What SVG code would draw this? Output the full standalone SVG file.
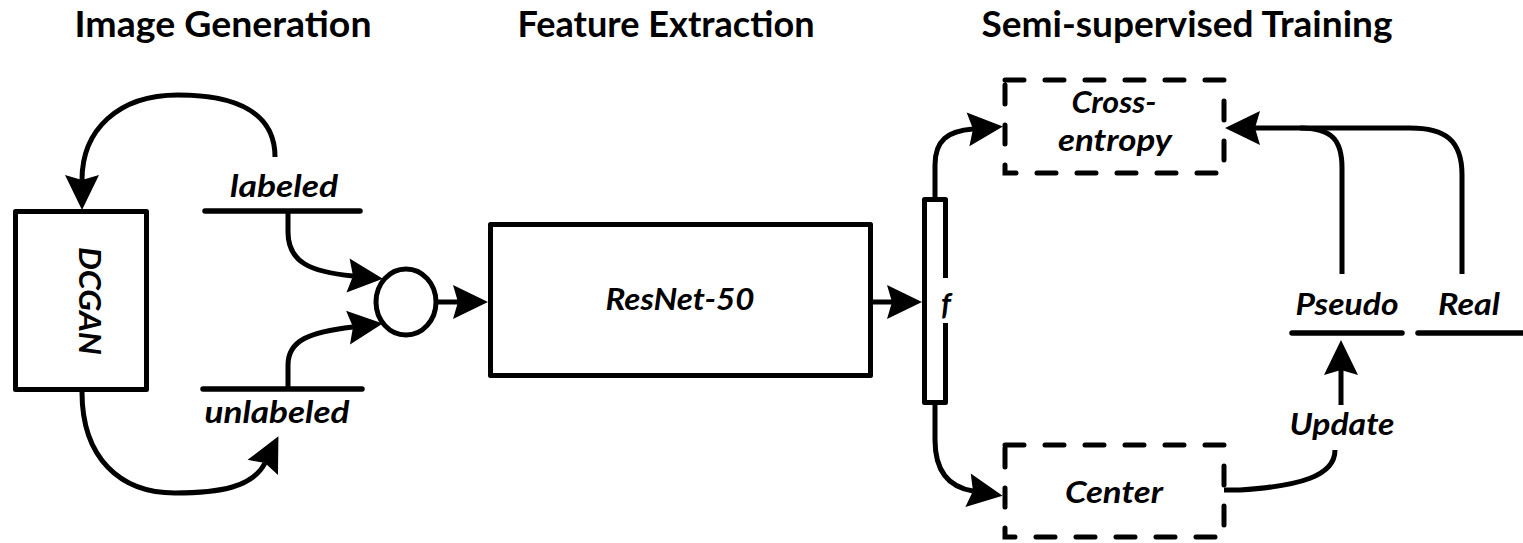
<svg xmlns="http://www.w3.org/2000/svg" width="1523" height="543" viewBox="0 0 1523 543">
  <style>
    .title { font-family: Lato, "Open Sans", "Liberation Sans", sans-serif; font-weight: bold; font-size: 36px; fill: #000; text-anchor: middle; }
    .lbl { font-family: Lato, "Open Sans", "Liberation Sans", sans-serif; font-weight: bold; font-style: italic; font-size: 30px; fill: #000; text-anchor: middle; }
    .box { fill: #fff; stroke: #000; stroke-width: 5; stroke-linejoin: round; }
    .dash { fill: #fff; stroke: #000; stroke-width: 5; stroke-dasharray: 19 21; stroke-linecap: round; }
    .bar { fill: none; stroke: #000; stroke-width: 5.5; stroke-linecap: round; }
    .conn { fill: none; stroke: #000; stroke-width: 5; }
    .arr { marker-end: url(#head); }
  </style>
  <defs>
    <marker id="head" markerUnits="userSpaceOnUse" markerWidth="80" markerHeight="80" refX="0" refY="0" viewBox="-40 -40 80 80" orient="auto" overflow="visible">
      <path d="M-5,-17 L30,0 L-5,17 L0,0 Z" fill="#000"/>
    </marker>
  </defs>

  <!-- section titles -->
  <text class="title" x="223" y="37" textLength="297" lengthAdjust="spacingAndGlyphs">Image Generation</text>
  <text class="title" x="666" y="37" textLength="297" lengthAdjust="spacingAndGlyphs">Feature Extraction</text>
  <text class="title" x="1187" y="37" textLength="411" lengthAdjust="spacingAndGlyphs">Semi-supervised Training</text>

  <!-- connectors -->
  <g id="connectors">
    <path class="conn arr" d="M275,157 C275,112 235,95 178,95 C118,95 82,130 82,180"/>
    <path class="conn arr" d="M82,392 C82,458 120,493 175,493 C220,493 253,487 265,463"/>
    <path class="conn arr" d="M288,211 L288,232 C288,262 310,272 353,276"/>
    <path class="conn arr" d="M288,389 L288,365 C288,340 310,332 353,327"/>
    <path class="conn arr" d="M438,302 L458,302"/>
    <path class="conn arr" d="M873,302 L892,302"/>
    <path class="conn arr" d="M935,199 L935,165 C935,140 948,131 973,129"/>
    <path class="conn arr" d="M935,405 L935,440 C935,470 948,487 973,491"/>
    <path class="conn arr" d="M1462,274 L1462,175 C1462,140 1445,128 1410,128 L1255,128"/>
    <path class="conn" d="M1342,274 L1342,168 C1342,140 1332,128 1300,128"/>
    <path class="conn" d="M1224,490 L1240,490 C1300,486 1335,476 1335,450"/>
    <path class="conn arr" d="M1341,405 L1341,370"/>
  </g>

  <!-- generator -->
  <g id="dcgan">
    <rect class="box" x="15.5" y="211.5" width="131" height="178"/>
    <text class="lbl" font-size="31" transform="translate(90,301) rotate(90)" x="0" y="11" textLength="108" lengthAdjust="spacingAndGlyphs">DCGAN</text>
  </g>

  <!-- data stores -->
  <g id="labeled">
    <line class="bar" x1="205" y1="211" x2="360" y2="211"/>
    <text class="lbl" x="284" y="197" textLength="108" lengthAdjust="spacingAndGlyphs">labeled</text>
  </g>
  <g id="unlabeled">
    <line class="bar" x1="203" y1="389" x2="362" y2="389"/>
    <text class="lbl" x="277" y="423" textLength="145" lengthAdjust="spacingAndGlyphs">unlabeled</text>
  </g>

  <!-- merge -->
  <g id="merge">
    <ellipse class="box" cx="406" cy="302" rx="30" ry="33"/>
  </g>

  <!-- backbone -->
  <g id="resnet">
    <rect class="box" x="490.5" y="224.5" width="380" height="151"/>
    <text class="lbl" x="680" y="310" textLength="149" lengthAdjust="spacingAndGlyphs">ResNet-50</text>
  </g>

  <!-- feature vector -->
  <g id="feature">
    <path class="box" style="fill:#fff" d="M945.5,278 L945.5,199.5 L924.5,199.5 L924.5,402.5 L945.5,402.5 L945.5,323"/>
    <text class="lbl" x="946" y="315">f</text>
  </g>

  <!-- losses -->
  <g id="cross-entropy">
    <rect class="dash" x="1005" y="80" width="219" height="93"/>
    <text class="lbl" x="1114" y="113" textLength="85" lengthAdjust="spacingAndGlyphs">Cross-</text>
    <text class="lbl" x="1115" y="151" textLength="114" lengthAdjust="spacingAndGlyphs">entropy</text>
  </g>
  <g id="center">
    <rect class="dash" x="1005" y="445" width="219" height="92"/>
    <text class="lbl" x="1114" y="503" textLength="98" lengthAdjust="spacingAndGlyphs">Center</text>
  </g>

  <!-- label sources -->
  <g id="pseudo">
    <line class="bar" x1="1292" y1="333" x2="1402" y2="333"/>
    <text class="lbl" x="1347" y="315" textLength="103" lengthAdjust="spacingAndGlyphs">Pseudo</text>
  </g>
  <g id="real">
    <line class="bar" x1="1418" y1="333" x2="1523" y2="333"/>
    <text class="lbl" x="1469" y="315" textLength="62" lengthAdjust="spacingAndGlyphs">Real</text>
  </g>
  <g id="update">
    <text class="lbl" x="1342" y="435" textLength="105" lengthAdjust="spacingAndGlyphs">Update</text>
  </g>
</svg>
